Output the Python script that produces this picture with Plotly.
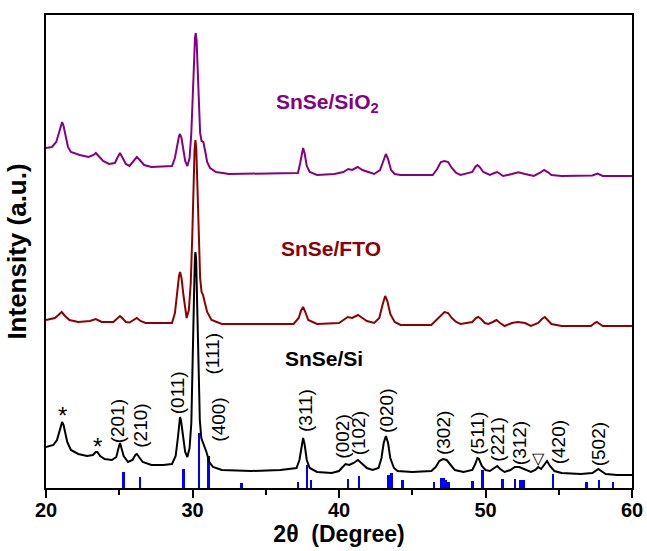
import plotly.graph_objects as go

# ---- data (2θ in degrees, intensity in arbitrary units) ----
si_x = [20.0, 20.5, 20.75, 20.9, 21.0, 21.1, 21.2, 21.3, 21.45, 21.7, 22.2, 22.8, 23.2, 23.4, 23.5,
        23.7, 24.0, 24.5, 24.8, 24.95, 25.05, 25.15, 25.3, 25.6, 25.9, 26.1, 26.2, 26.35, 26.6,
        27.2, 28.0, 28.6, 28.85, 29.0, 29.1, 29.15, 29.22, 29.35, 29.5, 29.65, 29.8, 29.92, 30.02,
        30.1, 30.16, 30.2, 30.25, 30.32, 30.4, 30.5, 30.6, 30.7, 30.8, 30.95, 31.15, 31.4, 32.0,
        34.0, 36.0, 37.1, 37.3, 37.45, 37.55, 37.65, 37.8, 38.0, 38.5, 39.5, 40.0, 40.25, 40.45,
        40.7, 41.0, 41.3, 41.6, 41.9, 42.3, 42.7, 42.9, 43.05, 43.2, 43.35, 43.5, 43.75, 44.0,
        45.0, 46.3, 46.6, 46.85, 47.1, 47.35, 47.6, 47.9, 48.5, 49.1, 49.3, 49.45, 49.55, 49.75,
        50.0, 50.3, 50.6, 50.8, 51.0, 51.3, 51.7, 52.0, 52.3, 52.6, 53.1, 53.4, 53.6, 53.8, 54.0,
        54.2, 54.4, 54.7, 55.2, 56.5, 57.3, 57.55, 57.7, 57.9, 58.2, 59.0, 60.0]
si_y = [41, 43, 48, 56, 63, 66, 63, 55, 46, 38, 34, 32, 33, 36, 36,
        32, 29, 28, 31, 40, 45, 40, 32, 26, 28, 33, 34, 31, 26,
        23, 23, 24, 32, 50, 67, 71, 67, 50, 36, 31, 40, 65, 120,
        190, 228, 236, 228, 180, 115, 68, 50, 46, 44, 36, 26, 21, 18,
        17, 18, 20, 28, 44, 50, 44, 28, 20, 16, 15, 17, 21, 24,
        23, 25, 28, 24, 20, 18, 20, 30, 45, 52, 45, 30, 20, 17,
        16, 17, 21, 27, 29, 28, 23, 18, 16, 18, 24, 30, 29, 22,
        18, 17, 20, 22, 19, 16, 18, 21, 21, 19, 16, 18, 21, 19, 23,
        27, 22, 17, 15, 14, 15, 18, 19, 17, 14, 13, 13]

fto_x = [20.0, 20.6, 20.85, 21.07, 21.3, 21.6, 22.2, 23.0, 23.4, 23.8, 24.6, 24.9, 25.05, 25.2,
         25.45, 25.7, 26.0, 26.2, 26.45, 26.8, 27.5, 28.6, 28.8, 28.95, 29.08, 29.15, 29.25,
         29.38, 29.5, 29.6, 29.75, 29.88, 29.98, 30.07, 30.14, 30.2, 30.26, 30.34, 30.42, 30.52,
         30.62, 30.72, 30.85, 31.0, 31.3, 32.0, 36.9, 37.25, 37.4, 37.55, 37.7, 37.9, 38.5, 40.0,
         40.3, 40.6, 40.9, 41.3, 41.6, 41.9, 42.4, 42.75, 42.95, 43.15, 43.3, 43.5, 43.8, 44.2,
         46.3, 46.6, 46.9, 47.2, 47.45, 47.7, 48.0, 48.3, 49.1, 49.35, 49.5, 49.7, 49.95, 50.2,
         50.5, 50.75, 51.0, 51.3, 51.8, 52.2, 52.7, 53.1, 53.6, 53.85, 54.05, 54.25, 54.5, 55.2,
         57.2, 57.45, 57.6, 57.8, 58.0, 60.0]
fto_y = [168, 170, 173, 176, 172, 168, 166, 167, 169, 166, 166, 170, 172, 170,
         166, 165.5, 168, 170, 167, 165, 165, 165, 175, 196, 212, 216, 210,
         193, 178, 170, 178, 205, 250, 305, 338, 348, 338, 300, 250, 210,
         196, 193, 185, 176, 168, 164, 164, 170, 177, 181, 176, 168, 164, 165,
         168, 171, 170, 173, 170, 167, 165, 170, 182, 192, 187, 174, 166, 163,
         163, 167, 172, 176, 175, 170, 166, 164, 166, 170, 171, 169, 165, 164,
         166, 168, 165, 162, 165, 166, 165, 162, 165, 169, 171, 168, 164, 162,
         162, 165, 166, 164, 162, 162]

sio2_x = [20.0, 20.4, 20.7, 20.85, 21.0, 21.1, 21.2, 21.35, 21.5, 21.7, 22.3, 22.9, 23.25, 23.4,
          23.6, 23.9, 24.3, 24.7, 24.9, 25.05, 25.2, 25.45, 25.7, 26.0, 26.2, 26.4, 26.7, 27.2,
          28.6, 28.8, 28.95, 29.08, 29.15, 29.25, 29.38, 29.5, 29.65, 29.8, 29.92, 30.02, 30.1,
          30.17, 30.22, 30.28, 30.35, 30.43, 30.52, 30.62, 30.74, 30.85, 31.0, 31.2, 31.6, 32.5,
          37.2, 37.35, 37.48, 37.55, 37.65, 37.8, 38.0, 38.5, 39.7, 40.3, 40.63, 40.9, 41.27,
          41.6, 42.0, 42.4, 42.8, 43.0, 43.2, 43.35, 43.55, 43.8, 44.2, 46.4, 46.7, 46.95, 47.2,
          47.45, 47.7, 48.0, 48.3, 49.1, 49.3, 49.45, 49.6, 49.85, 50.3, 50.6, 50.8, 51.0, 51.2,
          51.8, 52.25, 52.7, 53.3, 53.7, 54.0, 54.25, 54.5, 55.2, 57.3, 57.65, 58.0, 60.0]
sio2_y = [340, 341, 346, 354, 363, 366, 362, 350, 341, 336, 333, 331, 333, 335,
          332, 327, 324, 325, 331, 335, 331, 324, 322, 327, 331, 328, 323, 321,
          322, 330, 343, 352, 354, 350, 338, 327, 322, 330, 355, 395, 430,
          450, 455, 448, 420, 385, 355, 347, 346, 338, 326, 320, 316, 314,
          315, 325, 337, 340, 335, 322, 316, 313, 314, 316, 319, 318, 321,
          318, 316, 314, 318, 327, 334, 329, 318, 314, 313, 313, 319, 326, 327,
          326, 320, 315, 313, 316, 321, 323, 321, 316, 313, 315, 316, 314, 312,
          314, 315.7, 314, 312, 315, 318, 316, 313, 312, 312.5, 314.5, 312, 312]

ref_pos = [25.28, 26.4, 29.37, 30.45, 31.08, 33.36, 37.2, 37.8, 38.1, 40.6, 41.35, 43.37, 43.6,
           44.35, 46.5, 47.0, 47.14, 47.3, 47.46, 49.1, 49.8, 51.15, 52.0, 52.4, 52.6, 54.59,
           56.9, 57.75, 58.7]
ref_h = [16, 11, 19, 55, 32, 5, 6, 23, 8, 9, 12, 13, 15, 8, 6, 10, 10, 8, 6, 7, 18, 9, 9, 8, 8,
         14, 6, 8, 6]

hkl_text = ["(201)", "(210)", "(011)", "(111)", "(400)", "(311)", "(002)", "(102)", "(020)",
            "(302)", "(511)", "(221)", "(312)", "(420)", "(502)"]
hkl_x = [24.87, 26.4, 28.96, 31.3, 31.72, 37.68, 40.18, 41.32, 43.2, 47.1, 49.4, 50.76, 52.3,
         54.97, 57.7]
hkl_y = [67, 62, 95, 134, 68, 77, 51, 55, 77, 55, 55, 48, 45, 46, 44]

mark_text = ["*", "*", "▽"]
mark_x = [21.1, 23.5, 53.6]
mark_y = [73, 42, 30]

sample_names = ["SnSe/SiO<sub>2</sub>", "SnSe/FTO", "SnSe/Si"]
sample_x = [39.2, 39.44, 38.98]
sample_y = [385, 240, 130]

x_ticks = [20, 30, 40, 50, 60]

PURPLE = "#850085"
DARKRED = "#8f0000"
FONT = "Liberation Sans, Arial, sans-serif"

fig = go.Figure()
fig.add_trace(go.Bar(x=ref_pos, y=ref_h, width=0.17, marker=dict(color="#0000ff", line_width=0),
                     showlegend=False))
fig.add_trace(go.Scatter(x=si_x, y=si_y, mode="lines", line=dict(color="black", width=2),
                         showlegend=False))
fig.add_trace(go.Scatter(x=fto_x, y=fto_y, mode="lines", line=dict(color=DARKRED, width=2),
                         showlegend=False))
fig.add_trace(go.Scatter(x=sio2_x, y=sio2_y, mode="lines", line=dict(color=PURPLE, width=2),
                         showlegend=False))

for t, x, y in zip(hkl_text, hkl_x, hkl_y):
    fig.add_annotation(x=x, y=y, text=t, textangle=-90, showarrow=False,
                       font=dict(family=FONT, size=19, color="black"))
for t, x, y in zip(mark_text, mark_x, mark_y):
    fig.add_annotation(x=x, y=y, text=t, showarrow=False,
                       font=dict(family=FONT, size=24 if t == "*" else 16, color="black"))
for t, x, y, c in zip(sample_names, sample_x, sample_y, [PURPLE, DARKRED, "black"]):
    fig.add_annotation(x=x, y=y, text="<b>" + t + "</b>", showarrow=False,
                       font=dict(family=FONT, size=21, color=c))

fig.update_layout(
    width=647, height=551,
    margin=dict(l=46, r=15, t=15, b=63),
    paper_bgcolor="white", plot_bgcolor="white",
    font=dict(family=FONT, color="black"),
    bargap=0,
)
fig.update_xaxes(range=[20, 60], tickvals=x_ticks, ticktext=["<b>%d</b>" % v for v in x_ticks],
                 ticks="outside", ticklen=8, tickwidth=2, tickcolor="black",
                 minor=dict(ticks="outside", ticklen=5, tickwidth=2, tickcolor="black", dtick=5, tick0=20),
                 showline=True, linewidth=2, linecolor="black", mirror=True, showgrid=False,
                 zeroline=False, tickfont=dict(size=20, family=FONT), ticklabelstandoff=-5,
                 automargin=False,
                 title=dict(text="<b>2θ  (Degree)</b>", font=dict(size=23, family=FONT), standoff=4))
fig.update_yaxes(range=[0, 473], showticklabels=False, ticks="",
                 showline=True, linewidth=2, linecolor="black", mirror=True, showgrid=False,
                 zeroline=False, automargin=False,
                 title=dict(text="<b>Intensity (a.u.)</b>", font=dict(size=26, family=FONT), standoff=10))

fig.write_html("out.html", config={"displayModeBar": False},
               post_script="document.body.style.margin='0px';")
